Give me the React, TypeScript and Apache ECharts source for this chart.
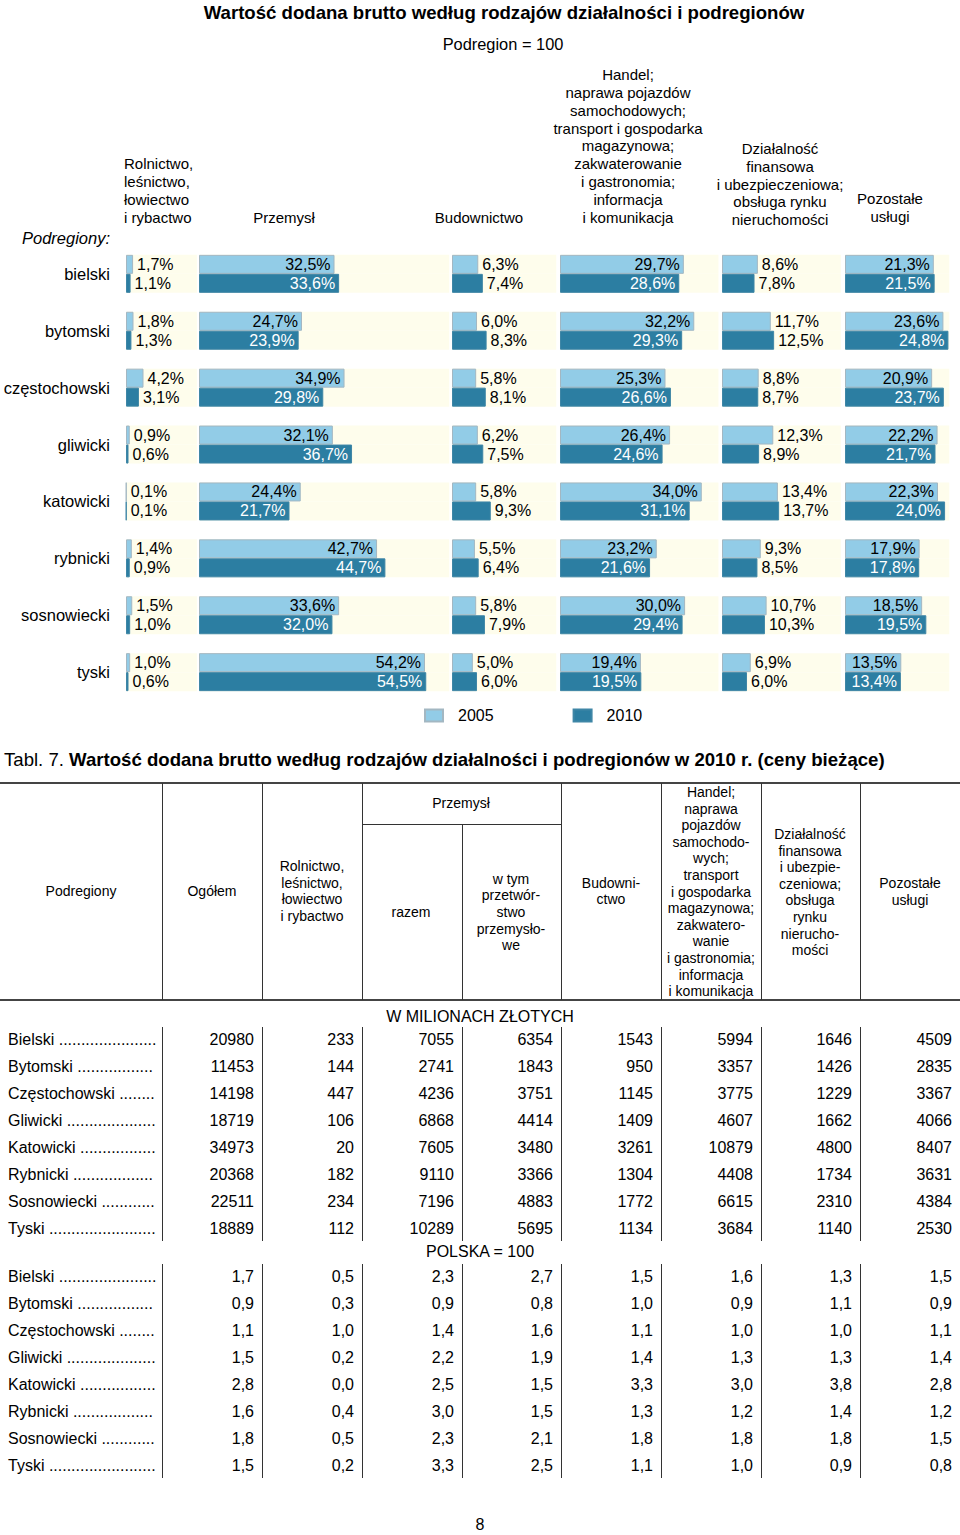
import React, { useEffect, useRef } from 'react';
import * as echarts from 'echarts';

const FONT = '"Liberation Sans", Arial, Helvetica, sans-serif';

// ---------- chart data (Podregion = 100) ----------
const regions = ['bielski', 'bytomski', 'częstochowski', 'gliwicki', 'katowicki', 'rybnicki', 'sosnowiecki', 'tyski'];
const years = ['2005', '2010'];

const agr2005 = [1.7, 1.8, 4.2, 0.9, 0.1, 1.4, 1.5, 1.0];
const agr2010 = [1.1, 1.3, 3.1, 0.6, 0.1, 0.9, 1.0, 0.6];
const ind2005 = [32.5, 24.7, 34.9, 32.1, 24.4, 42.7, 33.6, 54.2];
const ind2010 = [33.6, 23.9, 29.8, 36.7, 21.7, 44.7, 32.0, 54.5];
const con2005 = [6.3, 6.0, 5.8, 6.2, 5.8, 5.5, 5.8, 5.0];
const con2010 = [7.4, 8.3, 8.1, 7.5, 9.3, 6.4, 7.9, 6.0];
const trd2005 = [29.7, 32.2, 25.3, 26.4, 34.0, 23.2, 30.0, 19.4];
const trd2010 = [28.6, 29.3, 26.6, 24.6, 31.1, 21.6, 29.4, 19.5];
const fin2005 = [8.6, 11.7, 8.8, 12.3, 13.4, 9.3, 10.7, 6.9];
const fin2010 = [7.8, 12.5, 8.7, 8.9, 13.7, 8.5, 10.3, 6.0];
const oth2005 = [21.3, 23.6, 20.9, 22.2, 22.3, 17.9, 18.5, 13.5];
const oth2010 = [21.5, 24.8, 23.7, 21.7, 24.0, 17.8, 19.5, 13.4];

const sectorHeaders = [
  'Rolnictwo,\nleśnictwo,\nłowiectwo\ni rybactwo',
  'Przemysł',
  'Budownictwo',
  'Handel;\nnaprawa pojazdów\nsamochodowych;\ntransport i gospodarka\nmagazynowa;\nzakwaterowanie\ni gastronomia;\ninformacja\ni komunikacja',
  'Działalność\nfinansowa\ni ubezpieczeniowa;\nobsługa rynku\nnieruchomości',
  'Pozostałe\nusługi',
];

// ---------- table data (2010) ----------
const tableRegions = ['Bielski', 'Bytomski', 'Częstochowski', 'Gliwicki', 'Katowicki', 'Rybnicki', 'Sosnowiecki', 'Tyski'];
const tableHeaders = [
  'Podregiony',
  'Ogółem',
  'Rolnictwo,\nleśnictwo,\nłowiectwo\ni rybactwo',
  'razem',
  'w tym\nprzetwór-\nstwo\nprzemysło-\nwe',
  'Budowni-\nctwo',
  'Handel;\nnaprawa\npojazdów\nsamochodo-\nwych;\ntransport\ni gospodarka\nmagazynowa;\nzakwatero-\nwanie\ni gastronomia;\ninformacja\ni komunikacja',
  'Działalność\nfinansowa\ni ubezpie-\nczeniowa;\nobsługa\nrynku\nnierucho-\nmości',
  'Pozostałe\nusługi',
];
const groupHeader = 'Przemysł';
const unitMln = 'W MILIONACH ZŁOTYCH';
const unitIdx = 'POLSKA = 100';

const mlnTotal = [20980, 11453, 14198, 18719, 34973, 20368, 22511, 18889];
const mlnAgr = [233, 144, 447, 106, 20, 182, 234, 112];
const mlnInd = [7055, 2741, 4236, 6868, 7605, 9110, 7196, 10289];
const mlnMan = [6354, 1843, 3751, 4414, 3480, 3366, 4883, 5695];
const mlnCon = [1543, 950, 1145, 1409, 3261, 1304, 1772, 1134];
const mlnTrd = [5994, 3357, 3775, 4607, 10879, 4408, 6615, 3684];
const mlnFin = [1646, 1426, 1229, 1662, 4800, 1734, 2310, 1140];
const mlnOth = [4509, 2835, 3367, 4066, 8407, 3631, 4384, 2530];

const idxTotal = [1.7, 0.9, 1.1, 1.5, 2.8, 1.6, 1.8, 1.5];
const idxAgr = [0.5, 0.3, 1.0, 0.2, 0.0, 0.4, 0.5, 0.2];
const idxInd = [2.3, 0.9, 1.4, 2.2, 2.5, 3.0, 2.3, 3.3];
const idxMan = [2.7, 0.8, 1.6, 1.9, 1.5, 1.5, 2.1, 2.5];
const idxCon = [1.5, 1.0, 1.1, 1.4, 3.3, 1.3, 1.8, 1.1];
const idxTrd = [1.6, 0.9, 1.0, 1.3, 3.0, 1.2, 1.8, 1.0];
const idxFin = [1.3, 1.1, 1.0, 1.3, 3.8, 1.4, 1.8, 0.9];
const idxOth = [1.5, 0.9, 1.1, 1.4, 2.8, 1.2, 1.5, 0.8];

const dec = (v: number) => v.toFixed(1).replace('.', ',');

export default function App() {
  const ref = useRef<HTMLDivElement>(null);

  useEffect(() => {
    if (!ref.current) return;
    const chart = echarts.init(ref.current, undefined, { renderer: 'svg' });

    const PX = 4.17;
    const panels = [
      { v05: agr2005, v10: agr2010, max: 17, left: 126, inside: false },
      { v05: ind2005, v10: ind2010, max: 60, left: 199, inside: true },
      { v05: con2005, v10: con2010, max: 25, left: 452, inside: false },
      { v05: trd2005, v10: trd2010, max: 38, left: 560, inside: true },
      { v05: fin2005, v10: fin2010, max: 28.5, left: 722, inside: false },
      { v05: oth2005, v10: oth2010, max: 25, left: 845, inside: true },
    ];
    const gridTop = 245.4;
    const gridH = 455.2;

    const grid: any[] = [];
    const xAxis: any[] = [];
    const yAxis: any[] = [];
    const series: any[] = [];
    const c05 = '#92CCE7';
    const c10 = '#2C7EA2';

    panels.forEach((p, i) => {
      grid.push({ left: p.left, top: gridTop, width: p.max * PX, height: gridH, containLabel: false, outerBoundsMode: 'none' });
      xAxis.push({ type: 'value', gridIndex: i, min: 0, max: p.max, show: false });
      yAxis.push({
        type: 'category', gridIndex: i, data: regions, inverse: true,
        axisLine: { show: false }, axisTick: { show: false }, splitLine: { show: false },
        axisLabel: { show: i === 0, fontSize: 16.5, fontFamily: FONT, color: '#000', margin: 16 },
      });
      [p.v05, p.v10].forEach((vals, k) => {
        series.push({
          type: 'bar', name: years[k], xAxisIndex: i, yAxisIndex: i, data: vals,
          barWidth: 19, barGap: '0%',
          showBackground: true, backgroundStyle: { color: '#FEFDEC' },
          itemStyle: { color: k === 0 ? c05 : c10, borderColor: k === 0 ? '#A3B7C2' : '#3F86A6', borderWidth: 1 },
          label: {
            show: true,
            position: p.inside ? 'insideRight' : 'right',
            distance: 4,
            fontSize: 16, fontFamily: FONT,
            color: p.inside && k === 1 ? '#fff' : '#000',
            formatter: (q: any) => dec(q.value) + '%',
          },
          emphasis: { disabled: true },
        });
      });
    });

    const g: any[] = [];
    const txt = (x: number, y: number, text: string, o: any = {}) =>
      g.push({
        type: 'text', x, y, silent: true,
        style: {
          text, fill: '#000', fontSize: o.size || 16, fontFamily: FONT,
          fontWeight: o.weight || 'normal', fontStyle: o.style || 'normal',
          textAlign: o.align || 'left', textVerticalAlign: o.va || 'middle',
          lineHeight: o.lh, rich: o.rich,
        },
      });
    const line = (x1: number, y1: number, x2: number, y2: number, w = 1, c = '#333') =>
      g.push({ type: 'line', silent: true, shape: { x1, y1, x2, y2 }, style: { stroke: c, lineWidth: w } });

    // chart titles
    txt(504, 12, 'Wartość dodana brutto według rodzajów działalności i podregionów', { size: 18.6, weight: 'bold', align: 'center' });
    txt(503, 44, 'Podregion = 100', { size: 16.4, align: 'center' });
    const hdrPos = [
      { x: 124, y: 226, align: 'left' },
      { x: 284, y: 226, align: 'center' },
      { x: 479, y: 226, align: 'center' },
      { x: 628, y: 226, align: 'center' },
      { x: 780, y: 228.5, align: 'center' },
      { x: 890, y: 225, align: 'center' },
    ];
    sectorHeaders.forEach((h, i) =>
      txt(hdrPos[i].x, hdrPos[i].y, h, { size: 15, align: hdrPos[i].align, va: 'bottom', lh: 17.8 })
    );
    txt(22, 238, 'Podregiony:', { size: 16.5, style: 'italic' });

    // table title
    txt(4, 759, '{r|Tabl. 7. }{b|Wartość dodana brutto według rodzajów działalności i podregionów w 2010 r. (ceny bieżące)}', {
      rich: {
        r: { fontSize: 18.6, fontFamily: FONT, fill: '#000' },
        b: { fontSize: 18.6, fontFamily: FONT, fontWeight: 'bold', fill: '#000' },
      },
    });

    // table frame
    line(0, 783, 960, 783, 2, '#444');
    line(0, 1000, 960, 1000, 2, '#444');
    [162, 262, 362, 561, 661, 761, 860].forEach((x) => line(x + 0.5, 783, x + 0.5, 1000));
    line(462.5, 824, 462.5, 1000);
    line(362, 824.5, 561, 824.5);

    const hx = [81, 212, 312, 411, 511, 611, 711, 810, 910];
    const hy = [891, 891, 891, 912, 912, 891, 891.5, 892, 891.5];
    tableHeaders.forEach((h, i) => txt(hx[i], hy[i], h, { size: 14, align: 'center', lh: 16.6 }));
    txt(461, 803, groupHeader, { size: 14, align: 'center' });

    // row labels with dot leaders
    const cv = document.createElement('canvas').getContext('2d')!;
    cv.font = `16px ${FONT}`;
    const lead = (name: string) => {
      let s = name + ' ';
      while (cv.measureText(s + '.').width <= 149) s += '.';
      return s;
    };

    const colRight = [254, 354, 454, 553, 653, 753, 852, 952];
    const mln = [mlnTotal, mlnAgr, mlnInd, mlnMan, mlnCon, mlnTrd, mlnFin, mlnOth];
    const idx = [idxTotal, idxAgr, idxInd, idxMan, idxCon, idxTrd, idxFin, idxOth];
    const vlines = [162, 262, 362, 462, 561, 661, 761, 860];

    txt(480, 1016, unitMln, { align: 'center' });
    vlines.forEach((x) => line(x + 0.5, 1027, x + 0.5, 1241));
    tableRegions.forEach((r, j) => {
      const y = 1039 + j * 27;
      txt(8, y, lead(r));
      mln.forEach((col, c) => txt(colRight[c], y, String(col[j]), { align: 'right' }));
    });

    txt(480, 1251, unitIdx, { align: 'center' });
    vlines.forEach((x) => line(x + 0.5, 1264, x + 0.5, 1478));
    tableRegions.forEach((r, j) => {
      const y = 1276 + j * 27;
      txt(8, y, lead(r));
      idx.forEach((col, c) => txt(colRight[c], y, dec(col[j]), { align: 'right' }));
    });

    txt(480, 1524, '8', { align: 'center' });

    chart.setOption({
      animation: false,
      backgroundColor: '#fff',
      textStyle: { fontFamily: FONT },
      grid, xAxis, yAxis, series,
      legend: {
        data: years, left: 424, top: 707.5, padding: 0, icon: 'rect', itemWidth: 18, itemHeight: 12, itemGap: 79,
        selectedMode: false,
        textStyle: { fontSize: 16, fontFamily: FONT, color: '#000', padding: [0, 0, 0, 10] },
      },
      tooltip: { show: false },
      graphic: g,
    });

    return () => chart.dispose();
  }, []);

  return <div ref={ref} style={{ position: 'absolute', left: 0, top: 0, width: 960, height: 1535 }} />;
}
